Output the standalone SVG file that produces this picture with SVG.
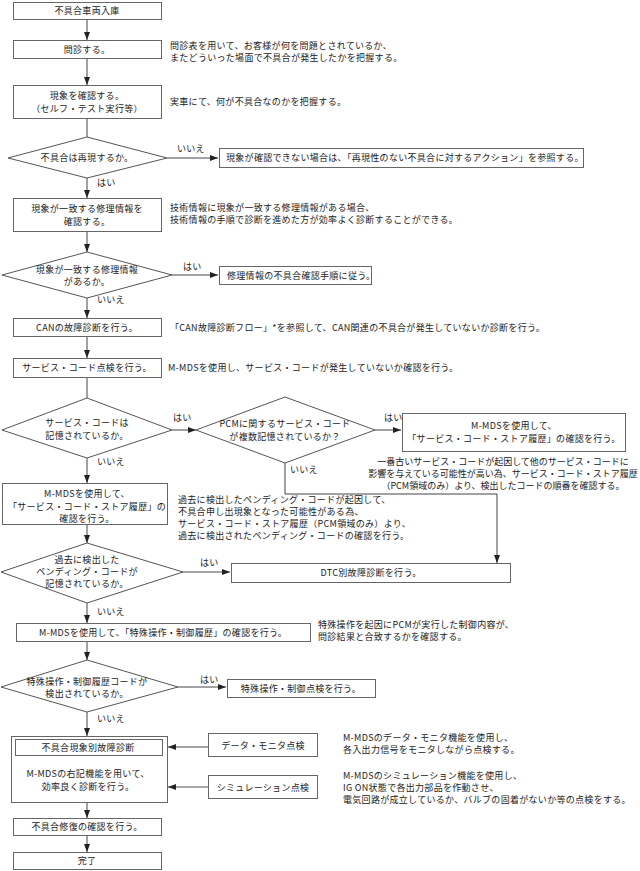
<svg xmlns="http://www.w3.org/2000/svg" width="640" height="871" viewBox="0 0 640 871">
<style>
text{font-family:"Noto Sans CJK JP","Liberation Sans",sans-serif;font-size:9px;fill:#222;letter-spacing:0.3px}
.c{text-anchor:middle}
.n{letter-spacing:0}
.b{fill:#fff;stroke:#666;stroke-width:1}
.d{fill:#fff;stroke:#555;stroke-width:1}
.l{fill:none;stroke:#444;stroke-width:1}
.g{fill:none;stroke:#aaa;stroke-width:2}
</style>
<defs>
<marker id="a" viewBox="0 0 8 6" refX="8" refY="3" markerWidth="8" markerHeight="6" markerUnits="userSpaceOnUse" orient="auto">
<path d="M0,0L8,3L0,6z" fill="#222"/>
</marker>
</defs>
<rect width="640" height="871" fill="#fff"/>
<g id="connectors">
<path class="l" d="M87,20V40" marker-end="url(#a)"/>
<path class="l" d="M87,58V85" marker-end="url(#a)"/>
<path class="l" d="M87,118V137"/>
<path class="l" d="M167,158H218" marker-end="url(#a)"/>
<path class="l" d="M87,178V198" marker-end="url(#a)"/>
<path class="l" d="M87,231V252" marker-end="url(#a)"/>
<path class="l" d="M172,275H218" marker-end="url(#a)"/>
<path class="l" d="M87,298V318" marker-end="url(#a)"/>
<path class="l" d="M87,336V358" marker-end="url(#a)"/>
<path class="l" d="M87,377V398"/>
<path class="l" d="M172,430H196" marker-end="url(#a)"/>
<path class="l" d="M375,430H401" marker-end="url(#a)"/>
<path class="l" d="M285,463V494H497V563" marker-end="url(#a)"/>
<path class="l" d="M87,458V483" marker-end="url(#a)"/>
<path class="l" d="M87,525V543" marker-end="url(#a)"/>
<path class="l" d="M183,572H230" marker-end="url(#a)"/>
<path class="l" d="M87,603V623" marker-end="url(#a)"/>
<path class="l" d="M87,641V660" marker-end="url(#a)"/>
<path class="l" d="M178,687H226" marker-end="url(#a)"/>
<path class="l" d="M87,712V736" marker-end="url(#a)"/>
<path class="l" d="M208,747H168" marker-end="url(#a)"/>
<path class="g" d="M208,787H174"/>
<path class="l" d="M174,787H168" marker-end="url(#a)"/>
<path class="l" d="M87,802V818" marker-end="url(#a)"/>
<path class="l" d="M87,835V852" marker-end="url(#a)"/>
<text x="177" y="152">いいえ</text>
<text x="97" y="186">はい</text>
<text x="183" y="270">はい</text>
<text x="97" y="303">いいえ</text>
<text x="173" y="421">はい</text>
<text x="384" y="421">はい</text>
<text x="97" y="465">いいえ</text>
<text x="290" y="473">いいえ</text>
<text x="200" y="566">はい</text>
<text x="97" y="615">いいえ</text>
<text x="200" y="683">はい</text>
<text x="97" y="722">いいえ</text>
</g>
<g id="n1"><rect class="b" x="13.5" y="2.5" width="148" height="17"/><text class="c" x="87" y="14">不具合車両入庫</text></g>
<g id="n2"><rect class="b" x="13.5" y="40.5" width="148" height="18"/><text class="c" x="87" y="53">問診する。</text>
<text x="170" y="49">問診表を用いて、お客様が何を問題とされているか、</text><text x="170" y="61">またどういった場面で不具合が発生したかを把握する。</text></g>
<g id="n3"><rect class="b" x="13.5" y="85.5" width="148" height="33"/><text class="c" x="87" y="99">現象を確認する。</text><text class="c" x="87" y="112">（セルフ・テスト実行等）</text>
<text x="170" y="105">実車にて、何が不具合なのかを把握する。</text></g>
<g id="d1"><polygon class="d" points="87,137 167,158 87,178 8,158"/><text class="c" x="87" y="161">不具合は再現するか。</text></g>
<g id="n4"><rect class="b" x="219.5" y="148.5" width="364" height="19"/><text x="226" y="161">現象が確認できない場合は、「再現性のない不具合に対するアクション」を参照する。</text></g>
<g id="n5"><rect class="b" x="13.5" y="198.5" width="148" height="33"/><text class="c" x="87" y="212">現象が一致する修理情報を</text><text class="c" x="87" y="225">確認する。</text>
<text x="170" y="211">技術情報に現象が一致する修理情報がある場合、</text><text x="170" y="223">技術情報の手順で診断を進めた方が効率よく診断することができる。</text></g>
<g id="d2"><polygon class="d" points="87,252 172,275 87,298 2,275"/><text class="c" x="87" y="273">現象が一致する修理情報</text><text class="c" x="87" y="285">があるか。</text></g>
<g id="n6"><rect class="b" x="219.5" y="266.5" width="152" height="18"/><text x="227" y="279">修理情報の不具合確認手順に従う。</text></g>
<g id="n7"><rect class="b" x="13.5" y="318.5" width="148" height="18"/><text class="c" x="87" y="331">CANの故障診断を行う。</text>
<text x="170" y="331">「CAN故障診断フロー」*を参照して、CAN関連の不具合が発生していないか診断を行う。</text></g>
<g id="n8"><rect class="b" x="13.5" y="358.5" width="148" height="19"/><text class="c" x="87" y="371">サービス・コード点検を行う。</text>
<text x="168" y="371">M-MDSを使用し、サービス・コードが発生していないか確認を行う。</text></g>
<g id="d3"><polygon class="d" points="87,398 172,430 87,458 2,430"/><text class="c" x="87" y="426">サービス・コードは</text><text class="c" x="87" y="439">記憶されているか。</text></g>
<g id="d4"><polygon class="d" points="285,397 375,430 285,463 196,430"/><text class="c" x="285" y="427">PCMに関するサービス・コード</text><text class="c" x="285" y="440">が複数記憶されているか？</text></g>
<g id="n9"><rect class="b" x="402.5" y="413.5" width="223" height="38"/><text class="c" x="514" y="429">M-MDSを使用して、</text><text class="c" x="514" y="442">「サービス・コード・ストア履歴」の確認を行う。</text>
<text class="c n" x="503" y="465">一番古いサービス・コードが起因して他のサービス・コードに</text><text class="c n" x="503" y="477">影響を与えている可能性が高い為、サービス・コード・ストア履歴</text><text class="c n" x="503" y="489">（PCM領域のみ）より、検出したコードの順番を確認する。</text></g>
<g id="n10"><rect class="b" x="2.5" y="483.5" width="165" height="41"/><text class="c" x="87" y="497">M-MDSを使用して、</text><text class="c" x="87" y="510">「サービス・コード・ストア履歴」の</text><text class="c" x="87" y="522">確認を行う。</text>
<text x="178" y="503">過去に検出したペンディング・コードが起因して、</text><text x="178" y="515">不具合申し出現象となった可能性がある為、</text><text x="178" y="527">サービス・コード・ストア履歴（PCM領域のみ）より、</text><text x="178" y="539">過去に検出されたペンディング・コードの確認を行う。</text></g>
<g id="d5"><polygon class="d" points="87,543 183,572 87,603 1,572"/><text class="c" x="87" y="563">過去に検出した</text><text class="c" x="87" y="575">ペンディング・コードが</text><text class="c" x="87" y="587">記憶されているか。</text></g>
<g id="n11"><rect class="b" x="231.5" y="563.5" width="279" height="19"/><text class="c" x="371" y="576">DTC別故障診断を行う。</text></g>
<g id="n12"><rect class="b" x="16.5" y="623.5" width="294" height="18"/><text class="c" x="163" y="636">M-MDSを使用して、「特殊操作・制御履歴」の確認を行う。</text>
<text x="318" y="628">特殊操作を起因にPCMが実行した制御内容が、</text><text x="318" y="640">問診結果と合致するかを確認する。</text></g>
<g id="d6"><polygon class="d" points="87,660 178,687 87,712 1,687"/><text class="c" x="87" y="685">特殊操作・制御履歴コードが</text><text class="c" x="87" y="697">検出されているか。</text></g>
<g id="n13"><rect class="b" x="227.5" y="679.5" width="148" height="18"/><text class="c" x="301" y="692">特殊操作・制御点検を行う。</text></g>
<g id="n14"><rect class="b" x="11.5" y="736.5" width="156" height="66"/><rect class="b" x="15.5" y="739.5" width="147" height="16"/><text class="c" x="88" y="751">不具合現象別故障診断</text><text class="c" x="88" y="777">M-MDSの右記機能を用いて、</text><text class="c" x="88" y="790">効率良く診断を行う。</text></g>
<g id="n15"><rect class="b" x="208.5" y="733.5" width="109" height="23"/><text class="c" x="263" y="749">データ・モニタ点検</text>
<text x="343" y="741">M-MDSのデータ・モニタ機能を使用し、</text><text x="343" y="753">各入出力信号をモニタしながら点検する。</text></g>
<g id="n16"><rect class="b" x="208.5" y="775.5" width="109" height="23"/><text class="c" x="263" y="791">シミュレーション点検</text>
<text x="343" y="779">M-MDSのシミュレーション機能を使用し、</text><text x="343" y="791">IG ON状態で各出力部品を作動させ、</text><text x="343" y="803">電気回路が成立しているか、バルブの固着がないか等の点検をする。</text></g>
<g id="n17"><rect class="b" x="13.5" y="818.5" width="148" height="17"/><text class="c" x="87" y="830">不具合修復の確認を行う。</text></g>
<g id="n18"><rect class="b" x="13.5" y="852.5" width="148" height="17"/><text class="c" x="87" y="864">完了</text></g>
</svg>
